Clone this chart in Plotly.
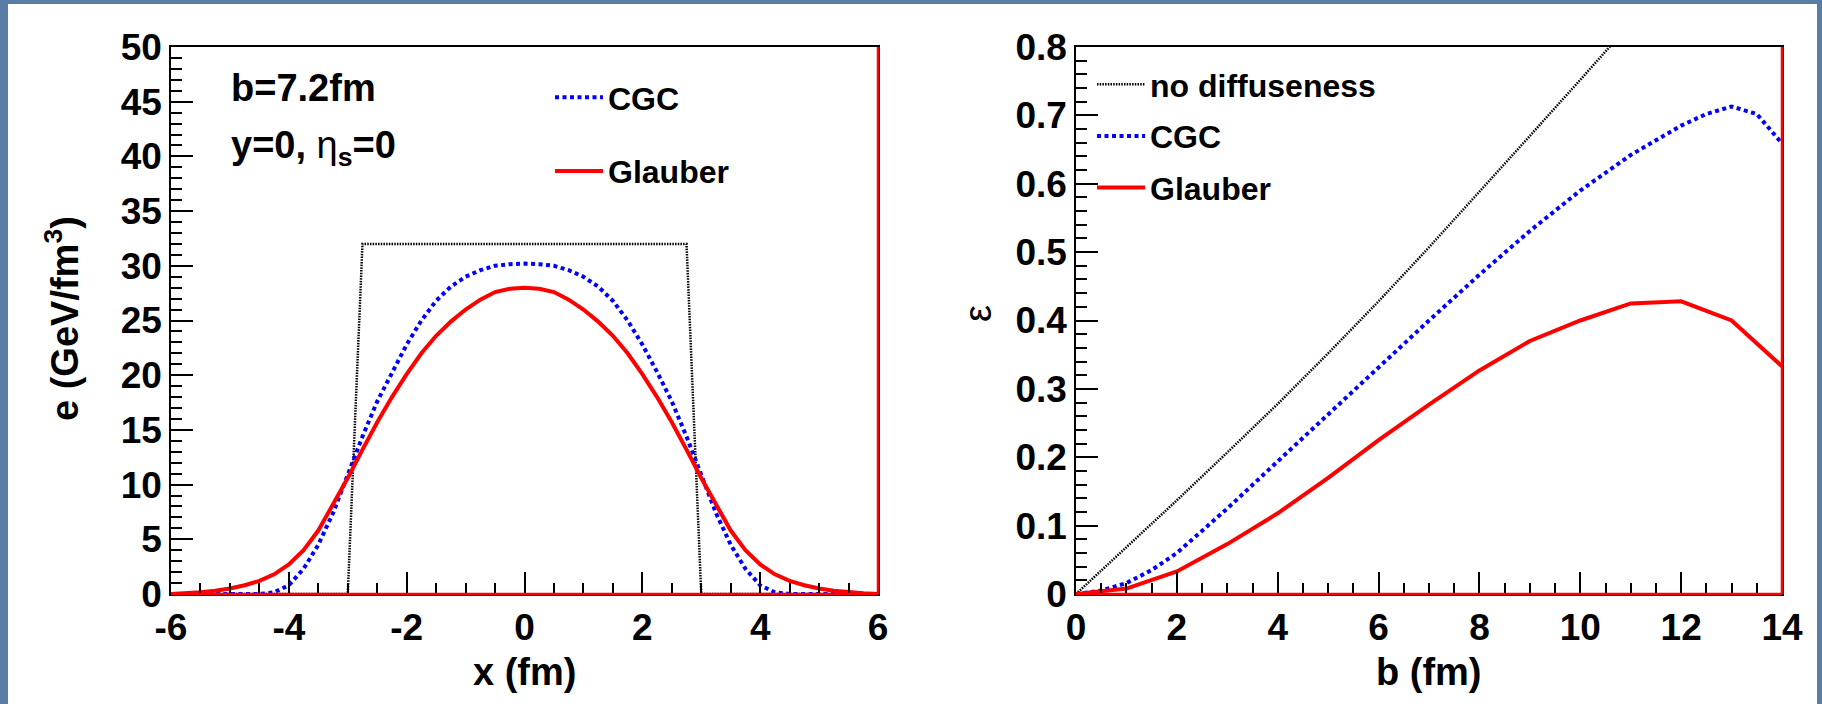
import plotly.graph_objects as go

# ---------------- left panel: energy density profile at b = 7.2 fm ----------------
x_fm = [-6.0, -5.75, -5.5, -5.25, -5.0, -4.75, -4.5, -4.25, -4.0, -3.75, -3.5, -3.25,
        -3.0, -2.75, -2.5, -2.25, -2.0, -1.75, -1.5, -1.25, -1.0, -0.75, -0.5, -0.25,
        0.0, 0.25, 0.5, 0.75, 1.0, 1.25, 1.5, 1.75, 2.0, 2.25, 2.5, 2.75,
        3.0, 3.25, 3.5, 3.75, 4.0, 4.25, 4.5, 4.75, 5.0, 5.25, 5.5, 5.75, 6.0]

e_glauber = [0.0, 0.06, 0.15, 0.3, 0.5, 0.8, 1.2, 1.8, 2.7, 4.0, 5.8, 8.2,
             10.6, 13.2, 15.7, 18.0, 20.1, 22.0, 23.6, 24.9, 26.0, 26.9, 27.6, 27.9,
             28.0, 27.9, 27.6, 26.9, 26.0, 24.9, 23.6, 22.0, 20.1, 18.0, 15.7, 13.2,
             10.6, 8.2, 5.8, 4.0, 2.7, 1.8, 1.2, 0.8, 0.5, 0.3, 0.15, 0.06, 0.0]

e_cgc = [0.0, 0.0, 0.0, 0.0, 0.0, 0.0, 0.0, 0.15, 0.8, 2.3, 4.5, 7.4,
         10.9, 14.4, 17.6, 20.3, 22.8, 25.0, 26.8, 28.1, 29.0, 29.6, 30.0, 30.15,
         30.2, 30.15, 30.0, 29.6, 29.0, 28.1, 26.8, 25.0, 22.8, 20.3, 17.6, 14.4,
         10.9, 7.4, 4.5, 2.3, 0.8, 0.15, 0.0, 0.0, 0.0, 0.0, 0.0, 0.0, 0.0]

x_sharp = [-6.0, -3.0, -2.75, 2.75, 3.0, 6.0]
e_sharp = [0.0, 0.0, 32.0, 32.0, 0.0, 0.0]

x_tickvals = [-6, -4, -2, 0, 2, 4, 6]
x_ticktext = ["-6", "-4", "-2", "0", "2", "4", "6"]

# ---------------- right panel: eccentricity versus impact parameter ----------------
b_sharp = [0, 1, 2, 3, 4, 5, 6, 7, 8, 9, 10, 11]
ecc_sharp = [0.0, 0.068, 0.137, 0.207, 0.278, 0.352, 0.428, 0.507, 0.588, 0.670, 0.752, 0.835]

b_cgc = [0, 0.5, 1, 1.5, 2, 3, 4, 5, 6, 7, 8, 9, 10, 11, 12, 12.5, 13, 13.5, 14]
ecc_cgc = [0.0, 0.005, 0.016, 0.035, 0.060, 0.125, 0.194, 0.263, 0.332, 0.400, 0.467,
           0.531, 0.590, 0.642, 0.685, 0.702, 0.713, 0.702, 0.659]

b_glauber = [0, 1, 2, 3, 4, 5, 6, 7, 8, 9, 10, 11, 12, 13, 14]
ecc_glauber = [0.0, 0.008, 0.033, 0.073, 0.118, 0.170, 0.225, 0.277, 0.327, 0.370,
               0.400, 0.425, 0.428, 0.400, 0.333]

W, H = 1822, 704
FONT = "Liberation Sans"
BLUE = "#0000ff"
RED = "#ff0000"

black_line = dict(color="black", width=2.5, dash="1.5px,1.2px")
blue_line = dict(color=BLUE, width=4, dash="4px,3.5px")
red_line = dict(color=RED, width=4)

fig = go.Figure()

# left panel traces
fig.add_trace(go.Scatter(x=x_sharp, y=e_sharp, mode="lines", line=black_line,
                         name="no diffuseness", showlegend=False, xaxis="x", yaxis="y"))
fig.add_trace(go.Scatter(x=x_fm, y=e_cgc, mode="lines", line=blue_line, name="CGC",
                         legend="legend", legendgroup="l1", xaxis="x", yaxis="y"))
fig.add_trace(go.Scatter(x=x_fm, y=e_glauber, mode="lines", line=red_line, name="Glauber",
                         legend="legend", legendgroup="l2", xaxis="x", yaxis="y"))

# right panel traces
fig.add_trace(go.Scatter(x=b_sharp, y=ecc_sharp, mode="lines", line=black_line,
                         name="no diffuseness", legend="legend2", legendgroup="r0",
                         xaxis="x2", yaxis="y2"))
fig.add_trace(go.Scatter(x=b_cgc, y=ecc_cgc, mode="lines", line=blue_line, name="CGC",
                         legend="legend2", legendgroup="r1", xaxis="x2", yaxis="y2"))
fig.add_trace(go.Scatter(x=b_glauber, y=ecc_glauber, mode="lines", line=red_line,
                         name="Glauber", legend="legend2", legendgroup="r2",
                         xaxis="x2", yaxis="y2"))

tick_font = dict(family=FONT, size=37, color="black", weight="bold")


def axis(rng, dtick, minor_dtick, domain, anchor):
    return dict(range=rng, dtick=dtick, tick0=rng[0], domain=domain, anchor=anchor,
                showgrid=False, zeroline=False, showline=True, linecolor="black",
                linewidth=1.5, mirror=True, ticks="inside", ticklen=22, tickwidth=1.5,
                tickcolor="black", tickfont=tick_font, fixedrange=True,
                minor=dict(dtick=minor_dtick, ticks="inside", ticklen=11, tickwidth=1.5,
                           tickcolor="black", showgrid=False))


xd1 = [171 / W, 878 / W]
xd2 = [1076 / W, 1782 / W]
yd = [1 - 594 / H, 1 - 47 / H]

xaxis1 = axis([-6, 6], 2, 0.5, xd1, "y")
xaxis1.update(tickmode="array", tickvals=x_tickvals, ticktext=x_ticktext)

legend_font = dict(family=FONT, size=32, color="black", weight="bold")

fig.update_layout(
    width=W, height=H,
    margin=dict(l=0, r=0, t=0, b=0, pad=0, autoexpand=False),
    paper_bgcolor="#5a7da6",
    plot_bgcolor="white",
    xaxis=xaxis1,
    yaxis=axis([0, 50], 5, 1, yd, "x"),
    xaxis2=axis([0, 14], 2, 0.5, xd2, "y2"),
    yaxis2=axis([0, 0.8], 0.1, 0.02, yd, "x2"),
    legend=dict(x=550 / W, y=1 - 70 / H, xanchor="left", yanchor="top",
                bgcolor="rgba(0,0,0,0)", borderwidth=0, itemwidth=48,
                tracegroupgap=29, font=legend_font),
    legend2=dict(x=1092 / W, y=1 - 57 / H, xanchor="left", yanchor="top",
                 bgcolor="rgba(0,0,0,0)", borderwidth=0, itemwidth=48,
                 tracegroupgap=7, font=legend_font),
    showlegend=True,
)

# white slide panel behind the two frames
fig.add_shape(type="rect", xref="paper", yref="paper", x0=8 / W, x1=1817 / W,
              y0=-0.02, y1=1 - 4 / H, fillcolor="white", line=dict(width=0),
              layer="below")

# the red histogram outline running along the bottom and right edges of each frame
for xr, yr in (("x domain", "y domain"), ("x2 domain", "y2 domain")):
    fig.add_shape(type="line", xref=xr, yref=yr, x0=0, x1=1, y0=0, y1=0,
                  line=dict(color=RED, width=2.5), layer="above")
    fig.add_shape(type="line", xref=xr, yref=yr, x0=1, x1=1, y0=0, y1=1,
                  line=dict(color=RED, width=2.5), layer="above")

ann_font = dict(family=FONT, size=38, color="black")
fig.add_annotation(xref="paper", yref="paper", x=229 / W, y=1 - 88 / H,
                   xanchor="left", yanchor="middle", showarrow=False,
                   text="<b>b=7.2fm</b>", font=ann_font)
fig.add_annotation(xref="paper", yref="paper", x=229 / W, y=1 - 148 / H,
                   xanchor="left", yanchor="middle", showarrow=False,
                   text="<b>y=0, </b>η<sub><b>s</b></sub><b>=0</b>", font=ann_font)

# axis titles
title_font = dict(family=FONT, size=38, color="black")
fig.add_annotation(xref="paper", yref="paper", x=(171 + 878) / 2 / W, y=1 - 672 / H,
                   xanchor="center", yanchor="middle", showarrow=False,
                   text="<b>x (fm)</b>", font=title_font)
fig.add_annotation(xref="paper", yref="paper", x=(1076 + 1782) / 2 / W, y=1 - 672 / H,
                   xanchor="center", yanchor="middle", showarrow=False,
                   text="<b>b (fm)</b>", font=title_font)
fig.add_annotation(xref="paper", yref="paper", x=62 / W, y=1 - 318 / H,
                   xanchor="center", yanchor="middle", showarrow=False, textangle=-90,
                   text="<b>e (GeV/fm<sup>3</sup>)</b>", font=title_font)
fig.add_annotation(xref="paper", yref="paper", x=978 / W, y=1 - 314 / H,
                   xanchor="center", yanchor="middle", showarrow=False, textangle=-90,
                   text="ε", font=dict(family=FONT, size=38, color="black"))

fig.write_html("out.html")
